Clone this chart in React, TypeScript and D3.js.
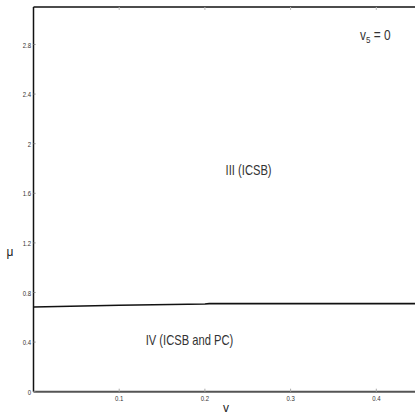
import React from "react";
import * as d3 from "d3";

const vValues = [0, 0.1, 0.2, 0.205, 0.3, 0.4, 0.46];
const muValues = [0.683, 0.697, 0.707, 0.71, 0.71, 0.71, 0.71];
const xTicks = [0.1, 0.2, 0.3, 0.4];
const yTicks = [0, 0.4, 0.8, 1.2, 1.6, 2, 2.4, 2.8];
const yTickLabels = ["0", "0.4", "0.8", "1.2", "1.6", "2", "2.4", "2.8"];
const regionLabels = [
  { text: "III (ICSB)", v: 0.251, mu: 1.75 },
  { text: "IV (ICSB and PC)", v: 0.182, mu: 0.378 },
];

const W = 415, H = 413;
const left = 33.5, top = 7, bottom = 391.7;

export default function App() {
  const x = d3.scaleLinear().domain([0, 0.1]).range([left, left + 85.7]);
  const y = d3.scaleLinear().domain([0, 0.4]).range([bottom, bottom - 49.6]);
  const line = d3.line<number>().x((_, i) => x(vValues[i])).y((d) => y(d));
  const font = "'Liberation Sans', Arial, sans-serif";
  return (
    <svg width={W} height={H} style={{ position: "absolute", left: 0, top: 0, background: "#fff" }}
      fontFamily={font}>
      <rect width={W} height={H} fill="#fff" />
      <line x1={left} x2={W} y1={top} y2={top} stroke="#111" strokeWidth={1.5} />
      <line x1={left} x2={left} y1={top} y2={bottom} stroke="#111" strokeWidth={1.5} />
      <line x1={left} x2={W} y1={bottom} y2={bottom} stroke="#555" strokeWidth={2} />
      {xTicks.map((t) => (
        <g key={t}>
          <line x1={x(t)} x2={x(t)} y1={bottom} y2={bottom - 3} stroke="#aaa" />
          <line x1={x(t)} x2={x(t)} y1={top} y2={top + 3} stroke="#bbb" />
          <g transform={`translate(${x(t)},${bottom + 9.5}) scale(0.75,1)`}>
            <text x={0} y={0} fontSize={8} textAnchor="middle" fill="#333">{String(t)}</text>
          </g>
        </g>
      ))}
      {yTicks.map((t, i) => (
        <g key={t}>
          <line x1={left} x2={left + 2} y1={y(t)} y2={y(t)} stroke="#888" />
          <g transform={`translate(${left - 2.5},${y(t) + 3}) scale(0.75,1)`}>
            <text x={0} y={0} fontSize={8} textAnchor="end" fill="#333">{yTickLabels[i]}</text>
          </g>
        </g>
      ))}
      <path d={line(muValues) || ""} fill="none" stroke="#111" strokeWidth={1.6} />
      {regionLabels.map((r) => (
        <g key={r.text} transform={`translate(${x(r.v)},${y(r.mu)}) scale(0.8,1)`}>
          <text x={0} y={0} fontSize={14} textAnchor="middle" fill="#333">{r.text}</text>
        </g>
      ))}
      <g transform="translate(360,40) scale(0.85,1)">
        <text x={0} y={0} fontSize={14} fill="#333">
          v<tspan fontSize={9.5} dy={3}>5</tspan><tspan dy={-3}> = 0</tspan>
        </text>
      </g>
      <text x={226} y={411.5} fontSize={12} textAnchor="middle" fill="#222">v</text>
      <text x={10} y={256} fontSize={12} textAnchor="middle" fill="#222">μ</text>
    </svg>
  );
}
